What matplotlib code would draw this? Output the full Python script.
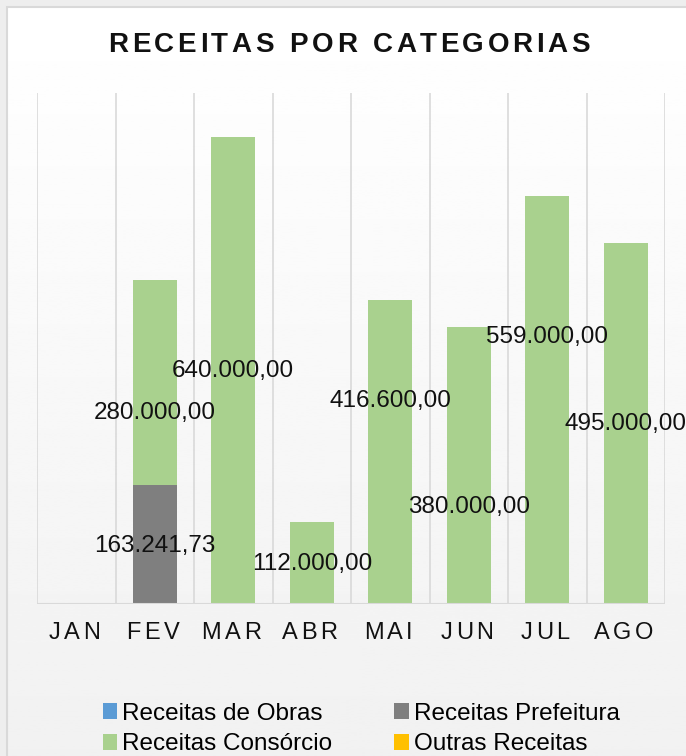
import numpy as np
from matplotlib import pyplot as plt
from matplotlib.patches import Rectangle

months = ["JAN", "FEV", "MAR", "ABR", "MAI", "JUN", "JUL", "AGO"]
obras = [0, 0, 0, 0, 0, 0, 0, 0]
prefeitura = [0, 163241.73, 0, 0, 0, 0, 0, 0]
consorcio = [0, 280000, 640000, 112000, 416600, 380000, 559000, 495000]
outras = [0, 0, 0, 0, 0, 0, 0, 0]

# label nudges in pixels (Excel moved a few labels to avoid overlaps)
cons_dy = [0, -29, 0, 0, 52, -41, 64, 0]

colors = {"obras": "#5B9BD5", "pref": "#7F7F7F", "cons": "#A9D18E", "outras": "#FFC000"}
FONT = "Liberation Sans"


def fmt(v):
    s = f"{v:,.2f}"
    return s.replace(",", "X").replace(".", ",").replace("X", ".")


def spaced_text(fig, renderer, x, y, s, track, **kw):
    # draw text char by char with extra tracking (x, y in pixels, centered)
    widths = []
    for ch in s:
        t = fig.text(0, 0, ch if ch != " " else "n", **kw)
        w = t.get_window_extent(renderer).width
        if ch == " ":
            w *= 0.5
        widths.append(w)
        t.remove()
    total = sum(widths) + track * (len(s) - 1)
    cx = x - total / 2
    for ch, w in zip(s, widths):
        fig.text(cx / fig.bbox.width, y / fig.bbox.height, ch, ha="left", va="center", **kw)
        cx += w + track


fig = plt.figure(figsize=(6.86, 7.56), dpi=100, facecolor="#eeeeee")
W, H = 686, 756

bg = fig.add_axes([0, 0, 1, 1], zorder=-10)
grad = np.linspace(1.0, 0.945, 256).reshape(-1, 1)
bg.imshow(grad, cmap="gray", vmin=0, vmax=1, aspect="auto",
          extent=[7 / W, 1.0, 0, 1 - 7 / H], transform=bg.transAxes)
bg.add_patch(Rectangle((7 / W, -0.01), 1.0, 1 - 7 / H + 0.01, transform=bg.transAxes,
                       fill=False, edgecolor="#d9d9d9", linewidth=1.5))
bg.set_xlim(0, 1)
bg.set_ylim(0, 1)
bg.axis("off")

ax = fig.add_axes([37 / W, 1 - 604 / H, (665 - 37) / W, (604 - 93) / H])
ax.set_facecolor("none")
x = np.arange(len(months))
bw = 0.56
b0 = np.zeros(len(months))
ax.bar(x, obras, bw, bottom=b0, color=colors["obras"], label="Receitas de Obras")
b1 = b0 + np.array(obras)
ax.bar(x, prefeitura, bw, bottom=b1, color=colors["pref"], label="Receitas Prefeitura")
b2 = b1 + np.array(prefeitura)
ax.bar(x, consorcio, bw, bottom=b2, color=colors["cons"], label="Receitas Consórcio")
b3 = b2 + np.array(consorcio)
ax.bar(x, outras, bw, bottom=b3, color=colors["outras"], label="Outras Receitas")

ax.set_xlim(-0.5, len(months) - 0.5)
ax.set_ylim(0, 700000)
for b in np.arange(-0.5, len(months), 1.0):
    ax.axvline(b, color="#d9d9d9", linewidth=1.2, zorder=0)
ax.axhline(0, color="#d9d9d9", linewidth=1.5, zorder=3)
for s in ax.spines.values():
    s.set_visible(False)
ax.set_xticks([])
ax.set_yticks([])

lab_kw = dict(fontsize=17.5, family=FONT, color="#111111", ha="center", va="center")
for i in range(len(months)):
    if prefeitura[i] > 0:
        ax.annotate(fmt(prefeitura[i]), (x[i], b1[i] + prefeitura[i] / 2),
                    xytext=(0, -2), textcoords="offset pixels", **lab_kw)
    if consorcio[i] > 0:
        ax.annotate(fmt(consorcio[i]), (x[i], b2[i] + consorcio[i] / 2),
                    xytext=(0, cons_dy[i] - 1), textcoords="offset pixels", **lab_kw)

renderer = fig.canvas.get_renderer()
spaced_text(fig, renderer, W / 2 + 6, H - 45, "RECEITAS POR CATEGORIAS", 3.6,
            fontsize=20, family=FONT, fontweight="bold", color="#111111")
for i, m in enumerate(months):
    px = ax.transData.transform((x[i], 0))[0]
    spaced_text(fig, renderer, px - 2, H - 633, m, 3.5, fontsize=17, family=FONT, color="#111111")

handles, labels = ax.get_legend_handles_labels()
order = [0, 2, 1, 3]
fig.legend([handles[k] for k in order], [labels[k] for k in order], ncol=2,
           loc="center", bbox_to_anchor=(361 / W, 1 - 729 / H), frameon=False,
           prop={"family": FONT, "size": 17.5}, handlelength=0.6, handleheight=0.6,
           handletextpad=0.2, columnspacing=2.55, labelspacing=0.36, borderpad=0)

fig.savefig("out.png", dpi=100)
